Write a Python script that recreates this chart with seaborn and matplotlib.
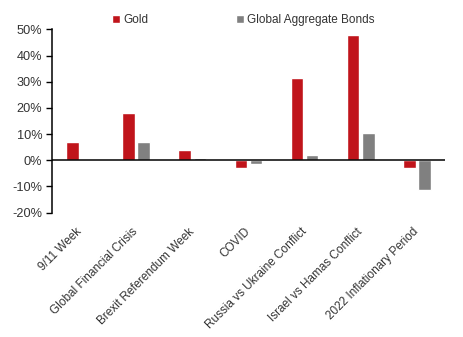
import matplotlib
matplotlib.use("Agg")
import matplotlib.pyplot as plt
import seaborn as sns
import pandas as pd
from matplotlib.ticker import FuncFormatter

categories = ["9/11 Week", "Global Financial Crisis", "Brexit Referendum Week", "COVID",
              "Russia vs Ukraine Conflict", "Israel vs Hamas Conflict", "2022 Inflationary Period"]
gold = [6.8, 18.2, 4.0, -2.8, 31.5, 48.0, -2.8]
bonds = [0.4, 7.0, 0.7, -1.6, 1.9, 10.6, -11.4]
series_names = ["Gold", "Global Aggregate Bonds"]
colors = ["#C0141B", "#808080"]
yticks = [-20, -10, 0, 10, 20, 30, 40, 50]

df = pd.DataFrame({
    "Event": categories * 2,
    "Series": [series_names[0]] * len(categories) + [series_names[1]] * len(categories),
    "Return": gold + bonds,
})

sns.set_theme(style="white")
plt.rcParams["font.family"] = ["Liberation Sans", "DejaVu Sans"]

fig = plt.figure(figsize=(4.63, 3.37), dpi=100)
ax = fig.add_axes([0.112, 0.369, 0.849, 0.544])

sns.barplot(data=df, x="Event", y="Return", hue="Series", palette=colors,
            width=0.54, gap=0.17, ax=ax, saturation=1, legend=True)

ax.set_xlim(-0.5, len(categories) - 0.5)
ax.set_ylim(-20, 50)
ax.set_yticks(yticks)
ax.yaxis.set_major_formatter(FuncFormatter(lambda v, p: f"{int(v)}%"))
ax.set_xlabel("")
ax.set_ylabel("")
ax.axhline(0, color="black", lw=1.1, zorder=1)

for s in ["top", "right", "bottom"]:
    ax.spines[s].set_visible(False)
ax.spines["left"].set_color("black")
ax.spines["left"].set_linewidth(1.1)

ax.tick_params(axis="y", which="both", left=True, length=4, width=1, color="black",
               labelsize=9.2, labelcolor="#333333", pad=3)
ax.tick_params(axis="x", bottom=False, labelsize=8.5, labelcolor="#333333", pad=6.5)
plt.setp(ax.get_xticklabels(), rotation=45, ha="right", va="center", rotation_mode="anchor")

leg = ax.legend(loc="lower left", bbox_to_anchor=(0.135, 0.98), ncol=2, frameon=False,
                fontsize=8.5, handlelength=0.7, handleheight=0.7, handletextpad=0.3,
                columnspacing=7.35, borderaxespad=0.2)
for t in leg.get_texts():
    t.set_color("#333333")

fig.savefig("out.png", dpi=100)
